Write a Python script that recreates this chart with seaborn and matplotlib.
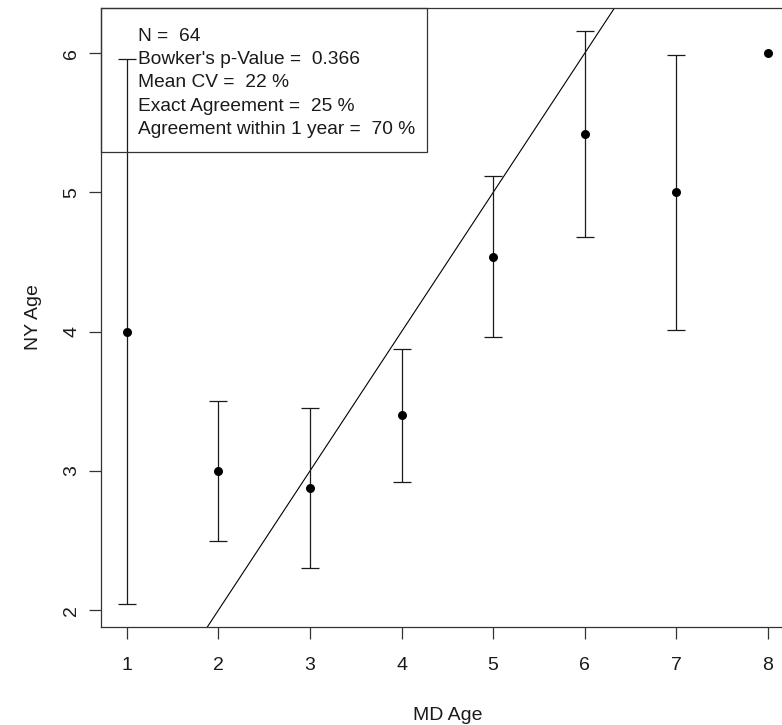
import numpy as np
import pandas as pd
import matplotlib
matplotlib.use("Agg")
import matplotlib.pyplot as plt
import seaborn as sns
from matplotlib.patches import Rectangle

# Mean NY age at each MD age, with the spread (SD) of NY ages
md_age = [1, 2, 3, 4, 5, 6, 7, 8]
ny_mean = [4.0, 3.0, 2.88, 3.40, 4.54, 5.42, 5.0, 6.0]
ny_sd = [1.955, 0.505, 0.575, 0.475, 0.575, 0.74, 0.99, 0.0]

x_ticks = [1, 2, 3, 4, 5, 6, 7, 8]
y_ticks = [2, 3, 4, 5, 6]

stats_lines = [
    "N =  64",
    "Bowker's p-Value =  0.366",
    "Mean CV =  22 %",
    "Exact Agreement =  25 %",
    "Agreement within 1 year =  70 %",
]

df = pd.DataFrame({"md": md_age, "ny": ny_mean, "sd": ny_sd})

sns.set_theme(style="ticks")
plt.rcParams["font.family"] = ["Liberation Sans", "DejaVu Sans"]
plt.rcParams["axes.linewidth"] = 0.9
plt.rcParams["axes.edgecolor"] = "#333333"

fig = plt.figure(figsize=(7.82, 7.25), dpi=100)
ax = fig.add_axes([0.12916, 0.13517, 0.8857, 0.8538])

# error bars (skip zero-width ones)
has_bar = df["sd"] > 0
ax.errorbar(df.loc[has_bar, "md"], df.loc[has_bar, "ny"], yerr=df.loc[has_bar, "sd"],
            fmt="none", ecolor="#1a1a1a", elinewidth=0.9, capsize=6.8, capthick=0.9,
            zorder=2)
sns.scatterplot(data=df, x="md", y="ny", ax=ax, color="black", s=42,
                edgecolor="black", linewidth=0, zorder=3, legend=False)

# 1:1 agreement line
ax.axline((0, 0), slope=1, color="black", linewidth=0.8, zorder=1)

# axis ranges padded 4% like base R
lo = df["ny"] - df["sd"]
hi = df["ny"] + df["sd"]
xr = max(md_age) - min(md_age)
ax.set_xlim(min(md_age) - 0.04 * xr, max(md_age) + 0.04 * xr)
yr = hi.max() - lo.min()
ax.set_ylim(lo.min() - 0.04 * yr, hi.max() + 0.04 * yr)

ax.set_xticks(x_ticks)
ax.set_xticklabels([str(v) for v in x_ticks])
ax.set_yticks(y_ticks)
ax.set_yticklabels([str(v) for v in y_ticks], rotation=90, va="center")
ax.tick_params(axis="both", length=8.4, width=0.9, color="#333333",
               labelsize=14, labelcolor="#1a1a1a")
ax.tick_params(axis="x", pad=13)
ax.tick_params(axis="y", pad=6.5)

ax.set_xlabel("MD Age", fontsize=14, labelpad=24, color="#1a1a1a")
ax.set_ylabel("NY Age", fontsize=14, labelpad=15, color="#1a1a1a")

for s in ax.spines.values():
    s.set_visible(True)

# statistics box in the upper-left corner
box_w, box_h = 0.4707, 0.2330
ax.add_patch(Rectangle((0, 1 - box_h), box_w, box_h, transform=ax.transAxes,
                       facecolor="none", edgecolor="#333333", linewidth=0.9,
                       zorder=4, clip_on=False))
y0 = 1 - 28.5 / 619
dy = 23.2 / 619
for i, line in enumerate(stats_lines):
    ax.text(37 / 692.6, y0 - i * dy, line, transform=ax.transAxes,
            fontsize=13.8, va="center", ha="left", color="#1a1a1a", zorder=5)

fig.savefig("out.png", dpi=100)
